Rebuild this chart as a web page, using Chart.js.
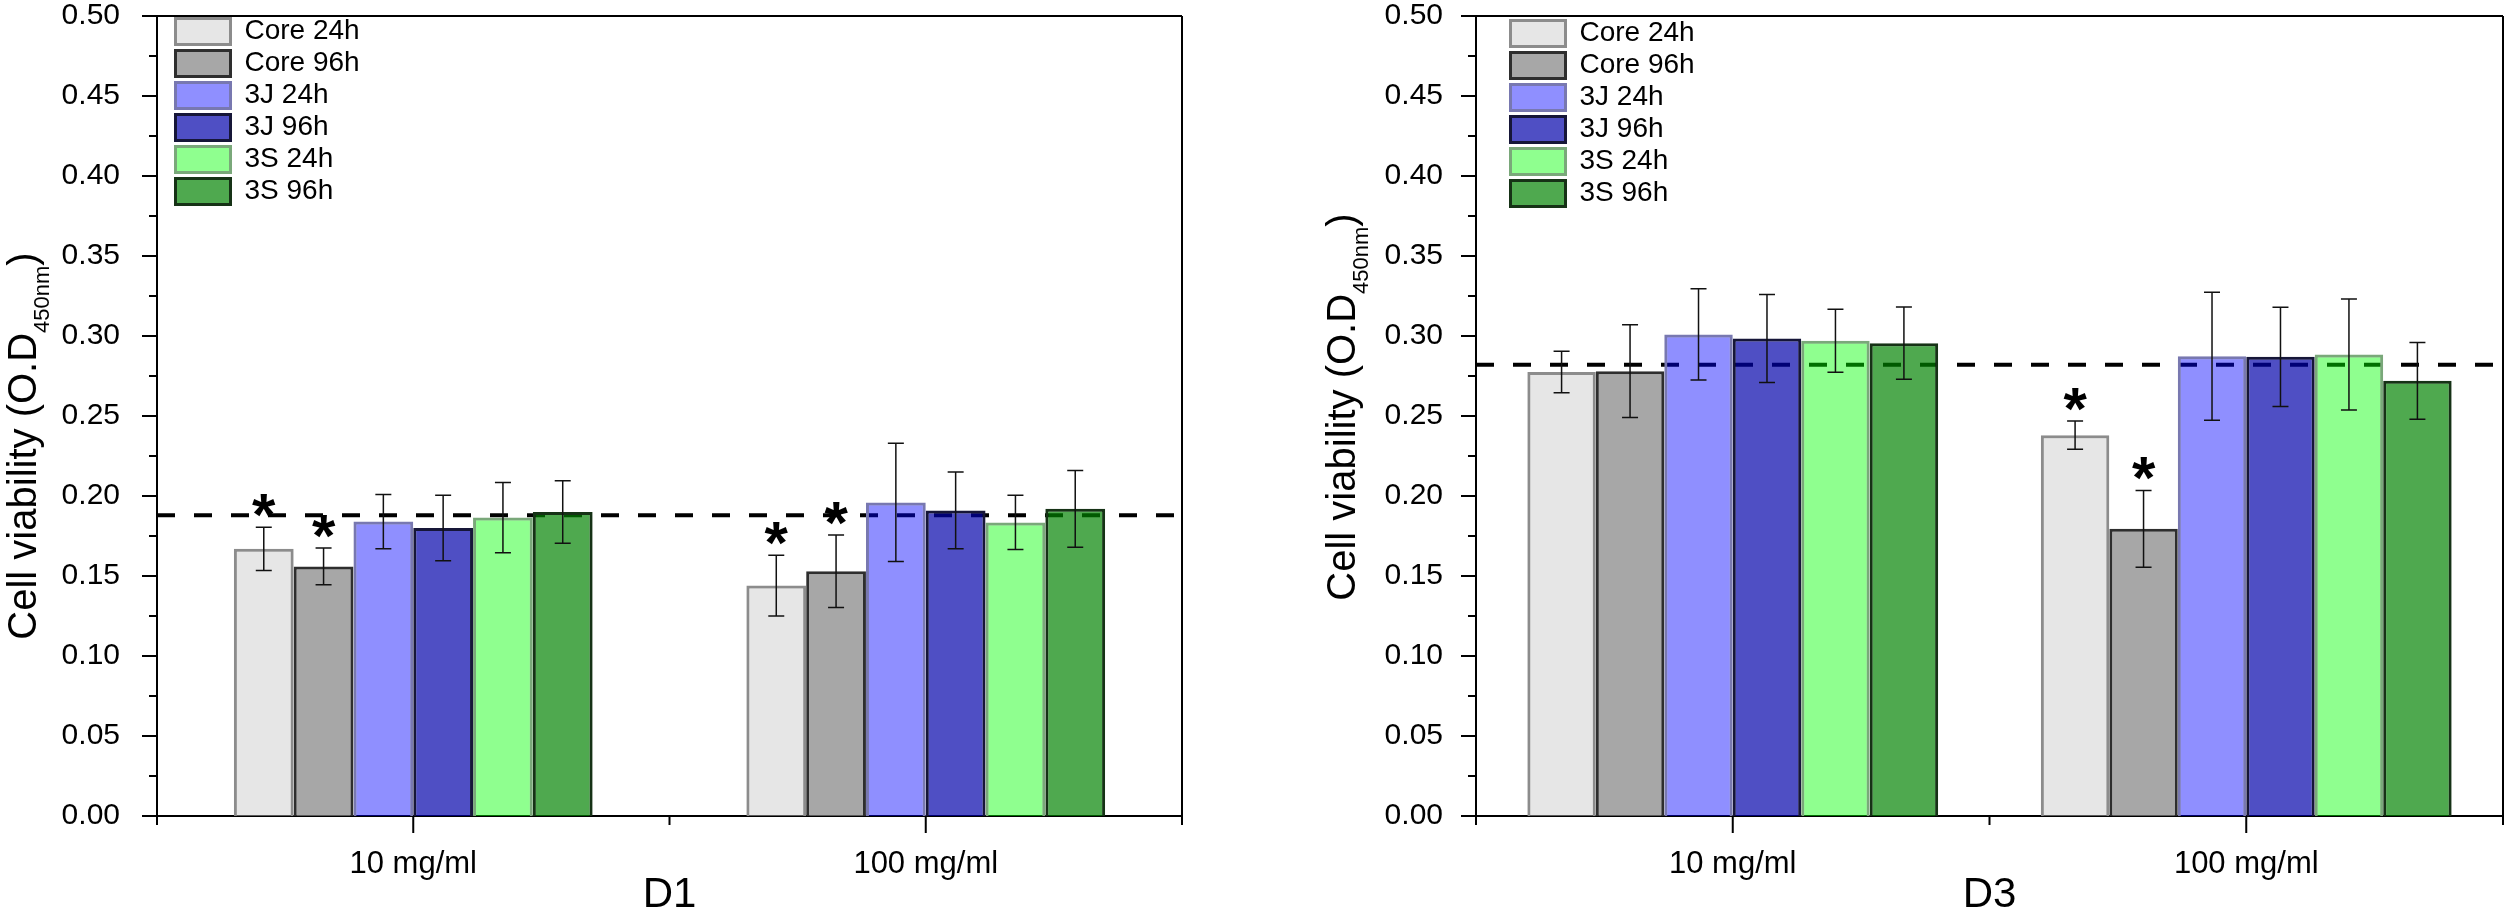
<!DOCTYPE html>
<html lang="en">
<head>
<meta charset="UTF-8">
<title>Cell viability D1 / D3</title>
<script src="https://cdn.jsdelivr.net/npm/chart.js"></script>
<style>
    html, body { margin: 0; padding: 0; background: #ffffff; }
    .row { display: flex; width: 2508px; height: 921px; }
    .chart-box { position: relative; width: 1254px; height: 921px; }
</style>
</head>
<body>
<div class="row">
    <div class="chart-box"><canvas id="d1Chart"></canvas></div>
    <div class="chart-box"><canvas id="d3Chart"></canvas></div>
</div>
<script>
const categories = ['10 mg/ml', '100 mg/ml'];
const seriesNames = ['Core 24h', 'Core 96h', '3J 24h', '3J 96h', '3S 24h', '3S 96h'];

// one value per series (same order as seriesNames)
const d1Mean10 = [0.167, 0.156, 0.184, 0.180, 0.1865, 0.190];
const d1Err10 = [0.0135, 0.0115, 0.017, 0.0205, 0.022, 0.0195];
const d1Mean100 = [0.144, 0.153, 0.196, 0.191, 0.1835, 0.192];
const d1Err100 = [0.019, 0.0227, 0.037, 0.024, 0.017, 0.024];
const d1Stars10 = [1, 1, 0, 0, 0, 0];
const d1Stars100 = [1, 1, 0, 0, 0, 0];
const d1Control = 0.188;

const d3Mean10 = [0.2775, 0.278, 0.301, 0.2985, 0.297, 0.2955];
const d3Err10 = [0.013, 0.029, 0.0285, 0.0275, 0.0197, 0.0226];
const d3Mean100 = [0.238, 0.1795, 0.2874, 0.287, 0.2885, 0.272];
const d3Err100 = [0.0088, 0.024, 0.040, 0.031, 0.0347, 0.024];
const d3Stars10 = [0, 0, 0, 0, 0, 0];
const d3Stars100 = [1, 1, 0, 0, 0, 0];
const d3Control = 0.282;

const yTitleMain = 'Cell viability (O.D';
const yTitleSub = '450nm';
const yTitleEnd = ')';

const fillColors = ['rgba(200,200,200,0.45)', 'rgba(130,130,130,0.7)', 'rgba(0,0,255,0.44)',
                    'rgba(0,0,170,0.69)', 'rgba(0,255,0,0.44)', 'rgba(0,130,0,0.69)'];
const edgeColors = ['#8c8c8c', '#2e2e2e', '#7878b0', '#161638', '#7aa87a', '#163216'];

const FONT = 'Arial, "Liberation Sans", sans-serif';
Chart.defaults.font.family = FONT;
Chart.defaults.color = '#000';

function buildDatasets(mean10, mean100, err10, err100, stars10, stars100) {
    return seriesNames.map((name, i) => ({
        label: name,
        data: [mean10[i], mean100[i]],
        errors: [err10[i], err100[i]],
        stars: [stars10[i], stars100[i]],
        backgroundColor: fillColors[i],
        borderColor: edgeColors[i],
        borderWidth: 3,
        barPercentage: 1.0
    }));
}

// dashed control line, error bars, stars, frame, minor ticks, y title
const decorPlugin = {
    id: 'decor',
    afterLayout(chart, args, opts) {
        const lg = chart.legend;
        lg.left += opts.legendDx; lg.right += opts.legendDx;
        lg.top += opts.legendDy; lg.bottom += opts.legendDy;
    },
    beforeDatasetsDraw(chart, args, opts) {
        const { ctx, chartArea: a, scales: { y } } = chart;
        const py = y.getPixelForValue(opts.control);
        ctx.save();
        ctx.strokeStyle = '#000';
        ctx.lineWidth = 4;
        ctx.setLineDash([18, 19]);
        ctx.beginPath();
        ctx.moveTo(a.left, py);
        ctx.lineTo(a.right, py);
        ctx.stroke();
        ctx.restore();
    },
    afterDatasetsDraw(chart) {
        const { ctx, scales: { y } } = chart;
        ctx.save();
        ctx.strokeStyle = '#111';
        ctx.lineWidth = 1.5;
        ctx.fillStyle = '#000';
        ctx.textAlign = 'center';
        ctx.textBaseline = 'alphabetic';
        ctx.font = 'bold 60px ' + FONT;
        chart.data.datasets.forEach((ds, i) => {
            const meta = chart.getDatasetMeta(i);
            meta.data.forEach((bar, j) => {
                const hi = y.getPixelForValue(ds.data[j] + ds.errors[j]);
                const lo = y.getPixelForValue(ds.data[j] - ds.errors[j]);
                ctx.beginPath();
                ctx.moveTo(bar.x, hi); ctx.lineTo(bar.x, lo);
                ctx.moveTo(bar.x - 8, hi); ctx.lineTo(bar.x + 8, hi);
                ctx.moveTo(bar.x - 8, lo); ctx.lineTo(bar.x + 8, lo);
                ctx.stroke();
                if (ds.stars[j]) {
                    ctx.fillText('*', bar.x, hi + 8);
                }
            });
        });
        ctx.restore();
    },
    afterDraw(chart, args, opts) {
        const { ctx, chartArea: a, scales: { x, y } } = chart;
        ctx.save();
        ctx.strokeStyle = '#000';
        ctx.lineWidth = 2;
        ctx.beginPath();
        // frame
        ctx.moveTo(a.left, a.top); ctx.lineTo(a.right, a.top);
        ctx.moveTo(a.right, a.top); ctx.lineTo(a.right, a.bottom);
        // y ticks, major every other one
        y.ticks.forEach((t, k) => {
            const py = y.getPixelForValue(t.value);
            const len = k % 2 === 0 ? 15 : 8;
            ctx.moveTo(a.left - len, py); ctx.lineTo(a.left, py);
        });
        // x ticks: major at categories, minor at boundaries
        const n = x.ticks.length;
        x.ticks.forEach((t, i) => {
            const px = x.getPixelForTick(i);
            ctx.moveTo(px, a.bottom); ctx.lineTo(px, a.bottom + 17);
        });
        for (let k = 0; k <= n; k++) {
            const px = x.left + k * (x.right - x.left) / n;
            ctx.moveTo(px, a.bottom); ctx.lineTo(px, a.bottom + 9);
        }
        ctx.stroke();

        // y title with subscript
        ctx.translate(a.left - opts.titleGap, opts.titleMid);
        ctx.rotate(-Math.PI / 2);
        ctx.fillStyle = '#000';
        ctx.textBaseline = 'alphabetic';
        ctx.textAlign = 'left';
        ctx.font = '40px ' + FONT;
        const w1 = ctx.measureText(yTitleMain).width;
        const w3 = ctx.measureText(yTitleEnd).width;
        ctx.font = '22px ' + FONT;
        const w2 = ctx.measureText(yTitleSub).width;
        let tx = -(w1 + w2 + w3) / 2;
        ctx.font = '40px ' + FONT;
        ctx.fillText(yTitleMain, tx, 0);
        tx += w1;
        ctx.font = '22px ' + FONT;
        ctx.fillText(yTitleSub, tx, 13);
        tx += w2;
        ctx.font = '40px ' + FONT;
        ctx.fillText(yTitleEnd, tx, 0);
        ctx.restore();
    }
};

function createConfig(datasets, xTitle, s) {
    return {
        type: 'bar',
        data: { labels: categories, datasets: datasets },
        plugins: [decorPlugin],
        options: {
            responsive: true,
            maintainAspectRatio: false,
            animation: false,
            devicePixelRatio: 1,
            categoryPercentage: s.catPct,
            layout: { padding: { top: 16, right: s.padRight, left: 0, bottom: 0 } },
            plugins: {
                tooltip: { enabled: false },
                legend: {
                    position: 'chartArea',
                    align: 'start',
                    labels: { boxWidth: 55, boxHeight: 26, padding: 4, color: '#000', font: { size: 28 } }
                },
                decor: {
                    control: s.control,
                    legendDx: s.legendDx, legendDy: s.legendDy,
                    titleGap: 121, titleMid: s.titleMid
                }
            },
            scales: {
                x: {
                    grid: { display: false },
                    border: { display: true, color: '#000', width: 2 },
                    ticks: { color: '#000', font: { size: 31 }, padding: 22, maxRotation: 0, autoSkip: false },
                    title: { display: true, text: xTitle, color: '#000', font: { size: 42 }, padding: { top: 0, bottom: 0 } },
                    afterFit: (axis) => { axis.height = 105; axis.paddingLeft = 0; axis.paddingRight = 0; }
                },
                y: {
                    min: 0, max: 0.5,
                    grid: { display: false },
                    border: { display: true, color: '#000', width: 2 },
                    ticks: {
                        stepSize: 0.025, autoSkip: false, color: '#000', font: { size: 30 }, padding: s.tickPad,
                        callback: (v, i) => i % 2 === 0 ? Number(v).toFixed(2) : ''
                    },
                    afterFit: (axis) => { axis.width = s.yWidth; axis.paddingTop = 0; axis.paddingBottom = 0; }
                }
            }
        }
    };
}

new Chart(document.getElementById('d1Chart'), createConfig(
    buildDatasets(d1Mean10, d1Mean100, d1Err10, d1Err100, d1Stars10, d1Stars100), 'D1',
    { control: d1Control, catPct: 0.7, padRight: 72, yWidth: 157, tickPad: 29, legendDx: 14.5, legendDy: 13.5, titleMid: 446 }));

new Chart(document.getElementById('d3Chart'), createConfig(
    buildDatasets(d3Mean10, d3Mean100, d3Err10, d3Err100, d3Stars10, d3Stars100), 'D3',
    { control: d3Control, catPct: 0.8, padRight: 5, yWidth: 222, tickPad: 25, legendDx: 30.5, legendDy: 15.5, titleMid: 407 }));
</script>
</body>
</html>
